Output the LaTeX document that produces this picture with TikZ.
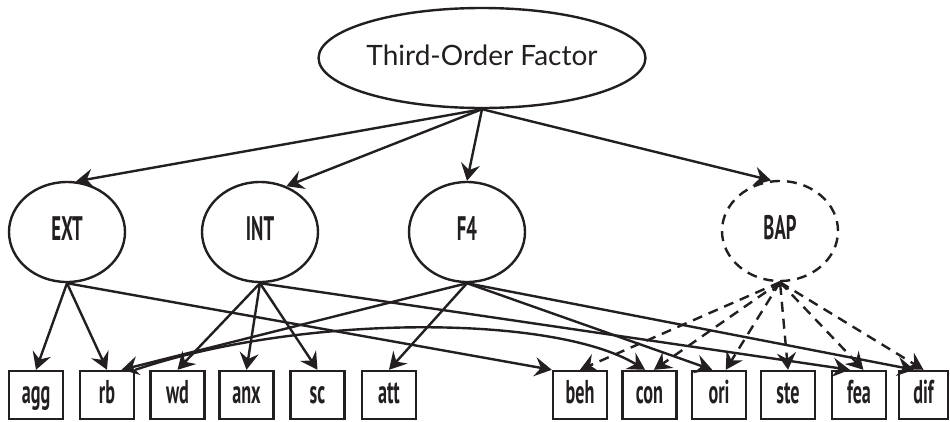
\documentclass[tikz,border=0pt]{standalone}
\usepackage{fontspec}
\setmainfont{Lato}
\newfontfamily\condfont{PT Sans}[FakeStretch=0.55]
\usetikzlibrary{arrows.meta,shapes.geometric}
\definecolor{ink}{RGB}{35,31,32}
\tikzset{
  latent/.style={ellipse, draw=ink, line width=2.4pt, minimum width=116pt,
    minimum height=100pt, inner sep=0pt, text=ink, text height=24pt, text depth=8pt,
    font=\condfont\bfseries\fontsize{34}{34}\selectfont},
  dlatent/.style={latent, dash pattern=on 10pt off 7pt},
  obs/.style={rectangle, draw=ink, line width=2.4pt, minimum width=54pt,
    minimum height=48pt, inner sep=0pt, text=ink, text height=24pt, text depth=8pt,
    font=\condfont\bfseries\fontsize{33}{33}\selectfont},
  tip/.tip={Stealth[length=17pt,width=19pt,inset=6pt]},
  load/.style={draw=ink, line width=2.4pt, -tip},
  dload/.style={load, dash pattern=on 10pt off 7pt},
}
\begin{document}
\begin{tikzpicture}[x=1pt, y=-1pt]
\fill[white] (0,0) rectangle (950,421);
\useasboundingbox (0,0) rectangle (950,421);

% factors
\node[latent, minimum width=284pt, text height=20pt, text depth=6pt,
      font=\fontsize{28}{28}\selectfont] (tof) at (482,58) {Third-Order Factor};
\node[latent]  (EXT) at (67,232)  {EXT};
\node[latent]  (INT) at (260,232) {INT};
\node[latent]  (F4)  at (467,232) {F4};
\node[dlatent] (BAP) at (780,231) {BAP};

% indicators
\node[obs] (agg) at (36,395)    {agg};
\node[obs] (rb)  at (107,395)   {rb};
\node[obs] (wd)  at (177.5,395) {wd};
\node[obs] (anx) at (246.5,395) {anx};
\node[obs] (sc)  at (317.5,395) {sc};
\node[obs] (att) at (389,395)   {att};
\node[obs] (beh) at (580,395)   {beh};
\node[obs] (con) at (649.5,395) {con};
\node[obs] (ori) at (719,395)   {ori};
\node[obs] (ste) at (788,395)   {ste};
\node[obs] (fea) at (859,395)   {fea};
\node[obs, minimum width=49pt] (dif) at (923.5,395) {dif};

% third-order loadings
\draw[load] (tof.south) -- (EXT.80);
\draw[load] (tof.south) -- (INT.60);
\draw[load] (tof.south) -- (F4.north);
\draw[load] (tof.south) -- (BAP.100);

% EXT
\draw[load] (EXT.south) -- (agg.north);
\draw[load] (EXT.south) -- (rb.north);
\draw[load] (EXT.south) -- (beh.north west);

% INT
\draw[load] (INT.south) -- (wd.north);
\draw[load] (INT.south) -- (anx.north);
\draw[load] (INT.south) -- (sc.north);
\draw[load] (INT.south) -- (fea.110);

% F4
\draw[load] (F4.south) -- (rb.60);
\draw[load] (F4.south) -- (att.north);
\draw[load] (F4.south) -- (ori.105);
\draw[load] (F4.south) -- (dif.110);

% curved path
\draw[load] (rb.north east) .. controls (300,314) and (554,314) .. (con.100);

% BAP
\draw[dload] (BAP.south) -- (beh.north);
\draw[dload] (BAP.south) -- (con.80);
\draw[dload] (BAP.south) -- (ori.75);
\draw[dload, {Straight Barb[length=6pt,width=16pt]}-tip] (BAP.south) -- (ste.north);
\draw[dload] (BAP.south) -- (fea.80);
\draw[dload] (BAP.south) -- (dif.north);
\end{tikzpicture}
\end{document}
